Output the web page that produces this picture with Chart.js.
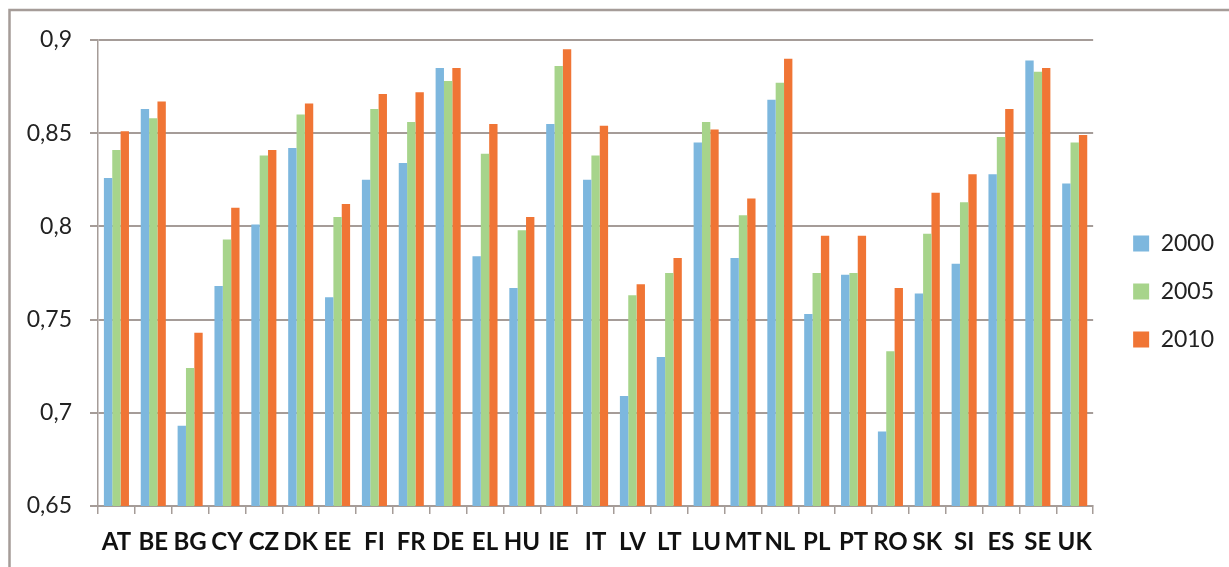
<!DOCTYPE html>
<html>
<head>
<meta charset="utf-8">
<title>2000 2005 2010</title>
<script src="https://cdn.jsdelivr.net/npm/chart.js@4/dist/chart.umd.min.js"></script>
<style>
  html, body { margin: 0; padding: 0; background: #ffffff; }
  #wrap { width: 1229px; height: 567px; }
</style>
</head>
<body>
<div id="wrap"><canvas id="c" width="1229" height="567"></canvas></div>
<script>
// Country codes along the x axis
const countries = ['AT','BE','BG','CY','CZ','DK','EE','FI','FR','DE','EL','HU','IE','IT',
                   'LV','LT','LU','MT','NL','PL','PT','RO','SK','SI','ES','SE','UK'];

// Index values per year
const values2000 = [0.826,0.863,0.693,0.768,0.801,0.842,0.762,0.825,0.834,0.885,0.784,0.767,0.855,0.825,
                    0.709,0.730,0.845,0.783,0.868,0.753,0.774,0.690,0.764,0.780,0.828,0.889,0.823];
const values2005 = [0.841,0.858,0.724,0.793,0.838,0.860,0.805,0.863,0.856,0.878,0.839,0.798,0.886,0.838,
                    0.763,0.775,0.856,0.806,0.877,0.775,0.775,0.733,0.796,0.813,0.848,0.883,0.845];
const values2010 = [0.851,0.867,0.743,0.810,0.841,0.866,0.812,0.871,0.872,0.885,0.855,0.805,0.895,0.854,
                    0.769,0.783,0.852,0.815,0.890,0.795,0.795,0.767,0.818,0.828,0.863,0.885,0.849];

const seriesNames = ['2000','2005','2010'];

// Y axis ticks, bottom to top
const yTickValues = [0.65, 0.7, 0.75, 0.8, 0.85, 0.9];
const yTickLabels = ['0,65','0,7','0,75','0,8','0,85','0,9'];

const GRID = '#a59c98';
const FONT = 'Lato, "Open Sans", sans-serif';

// Outer frame of the figure (open on the right and bottom)
const framePlugin = {
  id: 'frame',
  beforeDraw(chart) {
    const ctx = chart.ctx;
    ctx.save();
    ctx.fillStyle = '#ffffff';
    ctx.fillRect(0, 0, chart.width, chart.height);
    ctx.strokeStyle = GRID;
    ctx.lineWidth = 2.5;
    ctx.strokeRect(9.5, 10, chart.width + 40, chart.height + 40);
    ctx.restore();
  }
};

// Nudge the legend block to sit a little right of the plot and slightly higher
const legendPlace = {
  id: 'legendPlace',
  afterLayout(chart) {
    const lg = chart.legend;
    if (!lg) return;
    const dx = 15, dy = -12;
    lg.left += dx; lg.right += dx;
    lg.top += dy; lg.bottom += dy;
  }
};

new Chart(document.getElementById('c'), {
  type: 'bar',
  data: {
    labels: countries,
    datasets: [
      { label: seriesNames[0], data: values2000, backgroundColor: '#7db7de' },
      { label: seriesNames[1], data: values2005, backgroundColor: '#a7d48b' },
      { label: seriesNames[2], data: values2010, backgroundColor: '#f07535' }
    ]
  },
  options: {
    responsive: false,
    animation: false,
    devicePixelRatio: 1,
    layout: { padding: { top: 40, left: 0, right: 20, bottom: 0 } },
    datasets: {
      bar: { categoryPercentage: 0.68, barPercentage: 1.0, borderWidth: 0 }
    },
    plugins: {
      legend: {
        position: 'right',
        align: 'center',
        labels: {
          boxWidth: 16,
          boxHeight: 16,
          padding: 25,
          color: '#222222',
          font: { family: FONT, size: 23 }
        }
      },
      tooltip: { enabled: false },
      title: { display: false }
    },
    scales: {
      x: {
        grid: {
          display: true,
          drawOnChartArea: false,
          drawTicks: true,
          tickLength: 8,
          color: GRID,
          lineWidth: 1.5
        },
        border: { display: true, color: GRID, width: 2 },
        ticks: {
          color: '#111111',
          padding: 14,
          maxRotation: 0,
          autoSkip: false,
          font: { family: FONT, size: 24, weight: 'bold' }
        },
        afterFit(scale) { scale.height = 61; }
      },
      y: {
        min: yTickValues[0],
        max: yTickValues[yTickValues.length - 1],
        afterBuildTicks(scale) {
          scale.ticks = yTickValues.map(v => ({ value: v }));
        },
        grid: {
          color: GRID,
          lineWidth: 2,
          drawTicks: true,
          tickLength: 8
        },
        border: { display: true, color: GRID, width: 1.5 },
        ticks: {
          color: '#222222',
          padding: 18,
          font: { family: FONT, size: 23 },
          callback(value, index) { return yTickLabels[index]; }
        },
        afterFit(scale) { scale.width = 98; }
      }
    }
  },
  plugins: [framePlugin, legendPlace]
});
</script>
</body>
</html>
